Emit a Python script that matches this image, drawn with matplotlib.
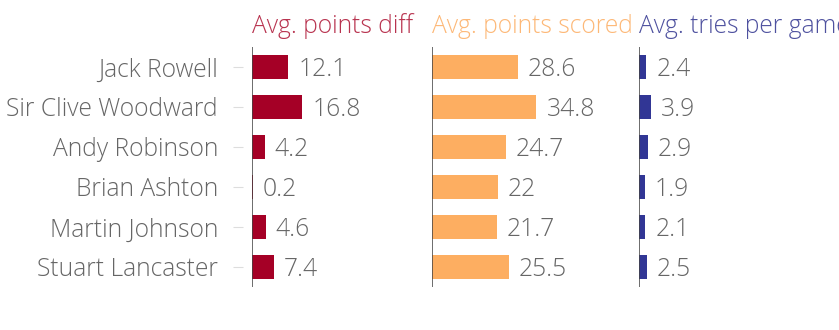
import matplotlib
matplotlib.use("Agg")
import matplotlib.pyplot as plt

coaches = ["Jack Rowell", "Sir Clive Woodward", "Andy Robinson", "Brian Ashton",
           "Martin Johnson", "Stuart Lancaster"]
points_diff = [12.1, 16.8, 4.2, 0.2, 4.6, 7.4]
points_scored = [28.6, 34.8, 24.7, 22, 21.7, 25.5]
tries_per_game = [2.4, 3.9, 2.9, 1.9, 2.1, 2.5]

titles = ["Avg. points diff", "Avg. points scored", "Avg. tries per game"]
colors = ["#a50026", "#fdae61", "#313695"]
title_colors = ["#b8334f", "#fdb877", "#4e519f"]

W, H = 839, 330
fig = plt.figure(figsize=(W / 100, H / 100), dpi=100)

plt.rcParams['font.family'] = ["Open Sans", "DejaVu Sans"]
FS = 17.7

# panel layout in pixels (left, width, xmax) -> 3 px per unit for all
panels = [(252, 180, 60), (432, 207, 69), (639, 240, 80)]
top, bottom = 47, 287
series = [points_diff, points_scored, tries_per_game]

for i, ((left, width, xmax), vals) in enumerate(zip(panels, series)):
    ax = fig.add_axes([left / W, (H - bottom) / H, width / W, (bottom - top) / H])
    ypos = list(range(len(coaches)))
    ax.barh(ypos, vals, height=0.6, color=colors[i], linewidth=0)
    ax.set_xlim(0, xmax)
    ax.set_ylim(len(coaches) - 0.5, -0.5)
    for s in ax.spines.values():
        s.set_visible(False)
    ax.axvline(0, color="#444444", linewidth=1.1)
    ax.set_xticks([])
    if i == 0:
        ax.spines['left'].set_position(('outward', 6.5))
        ax.set_yticks(ypos)
        ax.set_yticklabels(coaches, fontsize=FS, color="#666666", fontweight="light")
        ax.tick_params(axis='y', length=7.2, width=0.8, color="#dddddd", pad=10.8)
        for lab in ax.get_yticklabels():
            lab.set_verticalalignment("center_baseline")
    else:
        ax.set_yticks([])
    for y, v in zip(ypos, vals):
        ax.annotate(f"{v:g}", (v, y), xytext=(10, 0), textcoords="offset pixels",
                    ha="left", va="center_baseline", fontsize=FS, color="#666666",
                    fontweight="light")
    fig.text(left / W, 1 - 33 / H, titles[i], ha="left", va="baseline",
             fontsize=FS, color=title_colors[i], fontweight="light")

fig.savefig("out.png", dpi=100)
